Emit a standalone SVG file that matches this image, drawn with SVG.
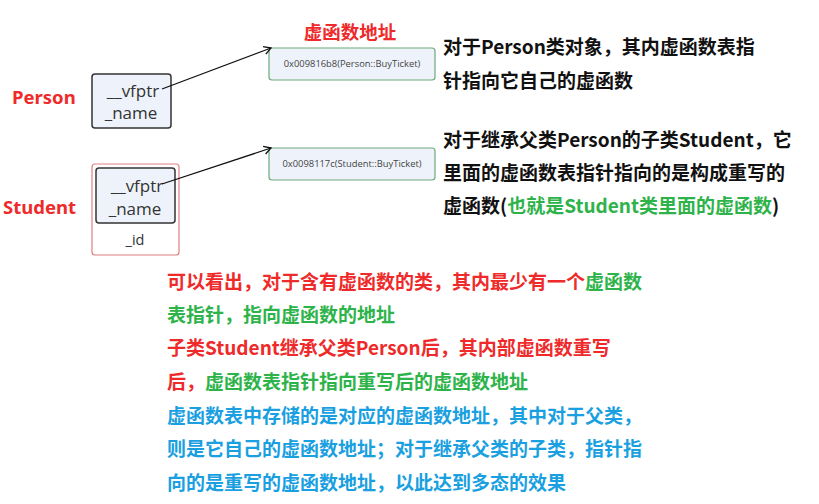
<svg xmlns="http://www.w3.org/2000/svg" width="819" height="504" viewBox="0 0 819 504">
<defs>
<style>
.node{fill:#eef3fb;stroke:#333;stroke-width:1.5}
.addr{fill:#eef3fb;stroke:#6aaa7a;stroke-width:1.2}
.field{font-family:"Open Sans","Noto Sans",sans-serif;font-size:17px;fill:#333;text-anchor:middle}
.at{font-family:"Open Sans","Noto Sans",sans-serif;font-size:9.4px;fill:#444;text-anchor:middle}
.lbl{font-family:"Noto Sans","Noto Sans CJK SC",sans-serif;font-weight:bold;font-size:18.5px;fill:#ee2a2a}
.t{font-family:"Noto Sans CJK SC",sans-serif;font-weight:bold;font-size:19px;fill:#111}
.r{fill:#ee2a2a}.g{fill:#2db34a}.b{fill:#1a9fe0}
.conn{stroke:#111;stroke-width:1.3;fill:none}
</style>
<marker id="arr" markerWidth="10" markerHeight="10" refX="8" refY="5" orient="auto" markerUnits="userSpaceOnUse">
<path d="M1,1 L8,5 L1,9" fill="none" stroke="#111" stroke-width="1.3"/>
</marker>
</defs>
<rect width="819" height="504" fill="#fff"/>

<g id="person">
<text class="lbl" x="12" y="104">Person</text>
<rect class="node" x="92" y="74" width="79" height="54" rx="3"/>
<text class="field" x="133" y="97">__vfptr</text>
<text class="field" x="131" y="119">_name</text>
</g>

<g id="student">
<text class="lbl" x="3" y="214">Student</text>
<rect x="92" y="164" width="87" height="91" rx="3" fill="#fff" stroke="#e08080" stroke-width="1.2"/>
<rect class="node" x="96" y="168" width="79" height="55" rx="3"/>
<text class="field" x="137" y="192">__vfptr</text>
<text class="field" x="135" y="215">_name</text>
<text class="field" x="135" y="245" style="font-size:14.5px">_id</text>
</g>

<g id="addr1">
<text class="lbl" x="350" y="39" text-anchor="middle" style="font-family:'Noto Sans CJK SC',sans-serif">虚函数地址</text>
<rect class="addr" x="269" y="48" width="166" height="32" rx="3"/>
<text class="at" x="352" y="67">0x009816b8(Person::BuyTicket)</text>
</g>

<g id="addr2">
<rect class="addr" x="269" y="148" width="166" height="32" rx="3"/>
<text class="at" x="352" y="167">0x0098117c(Student::BuyTicket)</text>
</g>

<g id="connectors">
<line class="conn" x1="162" y1="89" x2="271" y2="48" marker-end="url(#arr)"/>
<line class="conn" x1="162" y1="184" x2="271" y2="148" marker-end="url(#arr)"/>
</g>

<g id="notes-right">
<text class="t" x="443" y="54">对于Person类对象，其内虚函数表指</text>
<text class="t" x="443" y="88">针指向它自己的虚函数</text>
<text class="t" x="443" y="147">对于继承父类Person的子类Student，它</text>
<text class="t" x="443" y="180">里面的虚函数表指针指向的是构成重写的</text>
<text class="t" x="443" y="213">虚函数(<tspan class="g">也就是Student类里面的虚函数</tspan>)</text>
</g>

<g id="notes-bottom">
<text class="t r" x="167" y="289">可以看出，对于含有虚函数的类，其内最少有一个<tspan class="g">虚函数</tspan></text>
<text class="t g" x="167" y="322">表指针，指向虚函数的地址</text>
<text class="t r" x="167" y="355">子类Student继承父类Person后，其内部虚函数重写</text>
<text class="t r" x="167" y="389">后，<tspan class="g">虚函数表指针指向重写后的虚函数地址</tspan></text>
<text class="t b" x="167" y="423">虚函数表中存储的是对应的虚函数地址，其中对于父类，</text>
<text class="t b" x="167" y="456">则是它自己的虚函数地址；对于继承父类的子类，指针指</text>
<text class="t b" x="167" y="490">向的是重写的虚函数地址，以此达到多态的效果</text>
</g>
</svg>
